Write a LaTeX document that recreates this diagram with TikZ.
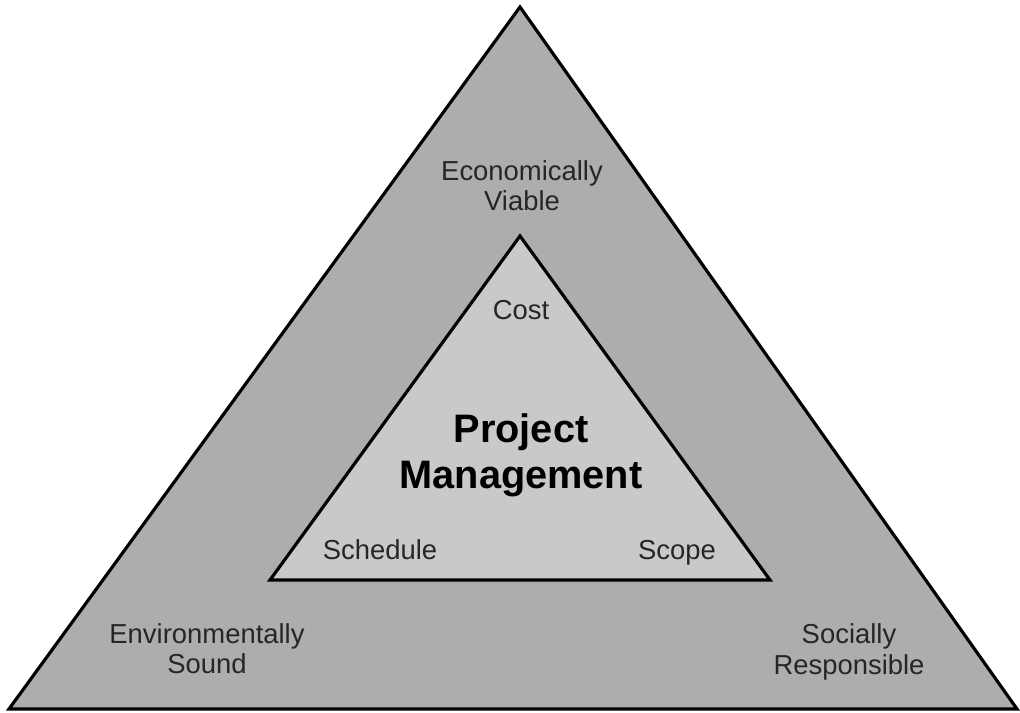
\documentclass[tikz,border=0pt]{standalone}
\usepackage{fontspec}
\setmainfont{Liberation Sans}
\definecolor{outergray}{HTML}{ADADAD}
\definecolor{innergray}{HTML}{C9C9C9}
\begin{document}
\begin{tikzpicture}[
    x=0.01cm, y=-0.01cm,
    tri/.style={draw=black, line width=0.9pt},
    sidelabel/.style={align=center, font=\fontsize{7.8}{8.6}\selectfont, text=black!85},
    titlelabel/.style={align=center, font=\fontsize{11.3}{13}\selectfont\bfseries},
]
\useasboundingbox (0,0) rectangle (1020,713);

% outer triangle
\coordinate (Otop) at (520,7);
\coordinate (Oleft) at (9,709);
\coordinate (Oright) at (1017,709);
\filldraw[tri, fill=outergray] (Otop) -- (Oleft) -- (Oright) -- cycle;

% inner triangle
\coordinate (Itop) at (520,236);
\coordinate (Ileft) at (270,580);
\coordinate (Iright) at (770,580);
\filldraw[tri, fill=innergray] (Itop) -- (Ileft) -- (Iright) -- cycle;

% outer labels
\node[sidelabel] (econ) at (522,186) {Economically\\Viable};
\node[sidelabel] (env) at (207,649) {Environmentally\\Sound};
\node[sidelabel] (soc) at (849,652) {Socially\\Responsible};

% inner labels
\node[sidelabel] (cost) at (521,310) {Cost};
\node[sidelabel] (sched) at (380,550) {Schedule};
\node[sidelabel] (scope) at (677,553) {Scope};
\node[titlelabel] (pm) at (521,455) {Project\\Management};

\end{tikzpicture}
\end{document}
